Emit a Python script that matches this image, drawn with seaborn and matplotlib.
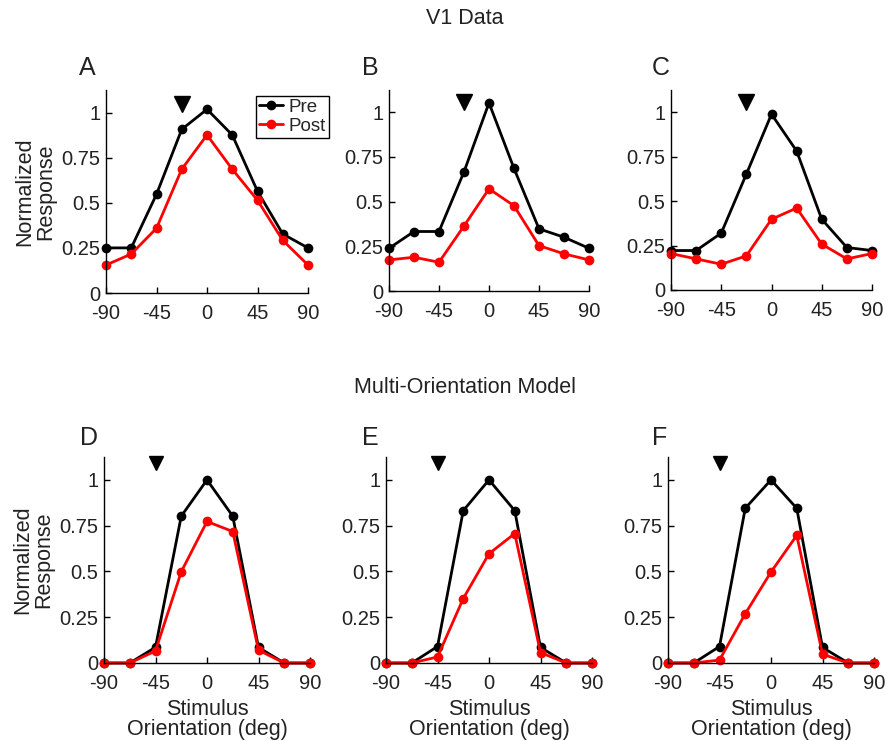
import matplotlib
matplotlib.use("Agg")
import matplotlib.pyplot as plt
import seaborn as sns
import pandas as pd

orientations = [-90, -67.5, -45, -22.5, 0, 22.5, 45, 67.5, 90]

pre_a = [0.25, 0.25, 0.547, 0.907, 1.018, 0.876, 0.564, 0.327, 0.25]
post_a = [0.155, 0.216, 0.359, 0.686, 0.876, 0.686, 0.514, 0.292, 0.155]
pre_b = [0.239, 0.333, 0.333, 0.667, 1.053, 0.686, 0.348, 0.301, 0.239]
post_b = [0.174, 0.189, 0.161, 0.364, 0.572, 0.477, 0.254, 0.208, 0.174]
pre_c = [0.222, 0.222, 0.320, 0.652, 0.989, 0.782, 0.398, 0.239, 0.222]
post_c = [0.205, 0.175, 0.145, 0.192, 0.398, 0.461, 0.258, 0.175, 0.205]
pre_d = [0, 0, 0.086, 0.802, 1.0, 0.802, 0.085, 0, 0]
post_d = [0, 0, 0.066, 0.498, 0.773, 0.718, 0.07, 0, 0]
pre_e = [0, 0, 0.09, 0.832, 1.0, 0.832, 0.085, 0, 0]
post_e = [0, 0, 0.033, 0.352, 0.597, 0.707, 0.057, 0, 0]
pre_f = [0, 0, 0.09, 0.845, 1.0, 0.845, 0.085, 0, 0]
post_f = [0, 0, 0.016, 0.269, 0.497, 0.697, 0.048, 0, 0]

panel_letters = ["A", "B", "C", "D", "E", "F"]
adapter_x = [-22.5, -22.5, -22.5, -45, -45, -45]
adapter_y = [1.05, 1.06, 1.06, 1.09, 1.09, 1.09]
row_titles = ["V1 Data", "Multi-Orientation Model"]
xtick_vals = [-90, -45, 0, 45, 90]
ytick_vals = [0, 0.25, 0.5, 0.75, 1]
ytick_labels = ["0", "0.25", "0.5", "0.75", "1"]

pre_all = [pre_a, pre_b, pre_c, pre_d, pre_e, pre_f]
post_all = [post_a, post_b, post_c, post_d, post_e, post_f]

sns.set_style("ticks")
plt.rcParams['font.family'] = ['Liberation Sans', 'DejaVu Sans']
plt.rcParams['axes.unicode_minus'] = False

W, H = 886, 741
fig = plt.figure(figsize=(W / 100, H / 100), dpi=100)

# axes boxes in pixels: left, top, right, bottom
boxes = [(106, 90, 308, 293), (389, 90, 589, 291), (671, 90, 872, 290),
         (104, 457, 310, 663), (386, 457, 592, 663), (668, 457, 874, 663)]
letter_pos = [(79, 68), (362, 68), (652, 68), (80, 438), (362, 438), (652, 438)]

for i in range(6):
    l, t, r, b = boxes[i]
    ax = fig.add_axes([l / W, 1 - b / H, (r - l) / W, (b - t) / H])
    df = pd.DataFrame({
        "orientation": orientations * 2,
        "response": pre_all[i] + post_all[i],
        "condition": ["Pre"] * 9 + ["Post"] * 9,
    })
    sns.lineplot(data=df, x="orientation", y="response", hue="condition",
                 hue_order=["Pre", "Post"], palette={"Pre": "black", "Post": "red"},
                 marker="o", markersize=7, markeredgewidth=0, linewidth=2,
                 errorbar=None, clip_on=False, legend=(i == 0), ax=ax)
    ms = 12 if i < 3 else 9.5
    ax.plot([adapter_x[i]], [adapter_y[i]], marker="v", color="black",
            markersize=ms, linestyle="none", clip_on=False)
    ax.set_xlim(-90, 90)
    ax.set_ylim(0, 1.125)
    ax.set_xticks(xtick_vals)
    ax.set_xticklabels([str(v) for v in xtick_vals])
    ax.set_yticks(ytick_vals)
    ax.set_yticklabels(ytick_labels)
    ax.tick_params(direction="in", length=4, width=1, labelsize=14.5,
                   colors="black", labelcolor="#222222")
    ax.tick_params(axis="x", pad=8)
    ax.tick_params(axis="y", pad=4)
    for s in ["left", "bottom"]:
        ax.spines[s].set_linewidth(1)
        ax.spines[s].set_color("black")
    sns.despine(ax=ax)
    if i in (0, 3):
        ax.set_ylabel("Normalized\nResponse", fontsize=15.5, linespacing=0.95,
                      color="#222222", labelpad=4)
    else:
        ax.set_ylabel("")
    if i >= 3:
        ax.set_xlabel("Stimulus\nOrientation (deg)", fontsize=15.5,
                      linespacing=0.95, color="#222222", labelpad=4)
    else:
        ax.set_xlabel("")
    if i == 0:
        leg = ax.legend(loc="upper right", bbox_to_anchor=(1.104, 0.97),
                        borderaxespad=0, fontsize=13.5, frameon=True,
                        fancybox=False, edgecolor="black", handlelength=1.3,
                        handletextpad=0.3, borderpad=0.15, labelspacing=0.1)
        leg.get_frame().set_linewidth(1)
        leg.get_frame().set_alpha(1)
    lx, ly = letter_pos[i]
    fig.text(lx / W, 1 - ly / H, panel_letters[i], fontsize=18,
             ha="left", va="center", color="#222222")

fig.text(465 / W, 1 - 19 / H, row_titles[0], fontsize=15.5, ha="center",
         va="center", color="#222222")
fig.text(465 / W, 1 - 388 / H, row_titles[1], fontsize=15.5, ha="center",
         va="center", color="#222222")

fig.savefig("out.png", dpi=100)
